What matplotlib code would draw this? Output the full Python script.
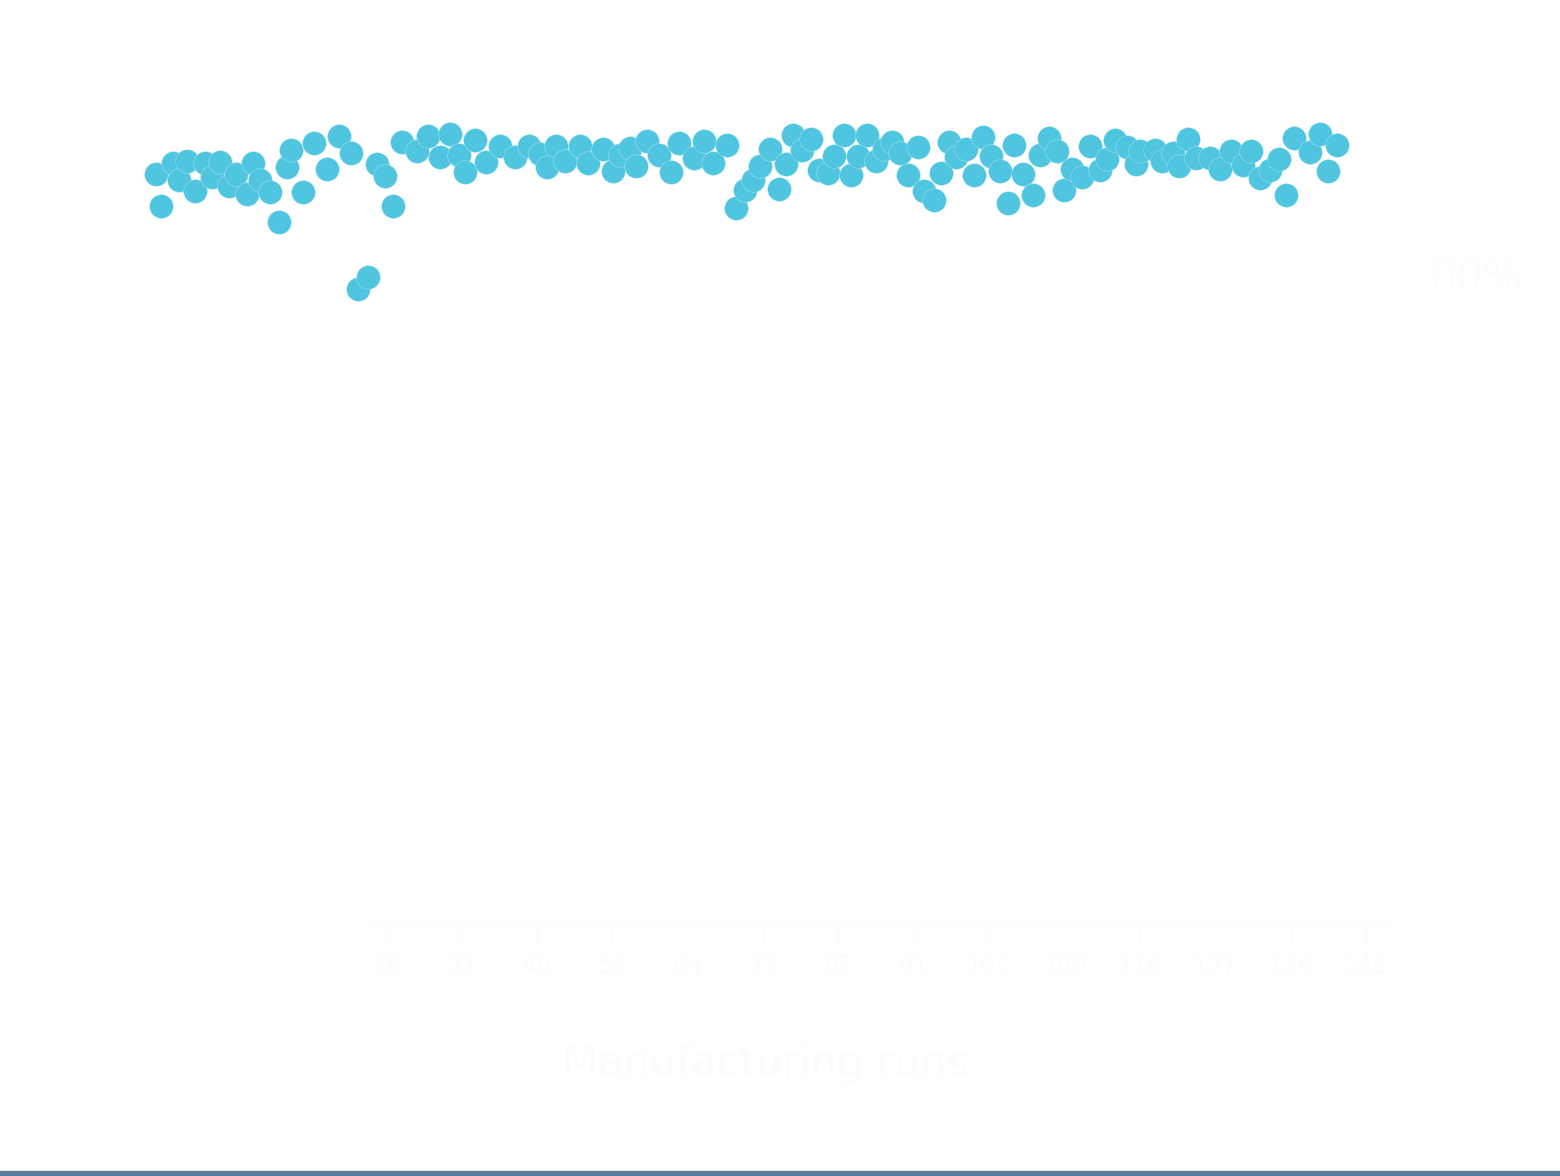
import matplotlib
matplotlib.use("Agg")
import matplotlib.pyplot as plt
from matplotlib.patches import Rectangle

runs = [0.5, 1.1, 2.6, 3.3, 4.2, 5.2, 6.4, 7.2, 8.2, 9.3, 10.1, 11.4, 12.1, 13.0, 14.1,
        15.2, 16.2, 16.7, 18.1, 19.4, 20.9, 22.4, 23.8, 24.7, 25.9, 26.9, 27.9, 28.8,
        29.9, 31.7, 33.0, 34.4, 35.6, 36.7, 37.4, 38.6, 39.9, 41.6, 43.4, 45.1, 46.4,
        47.2, 48.3, 49.4, 51.2, 52.1, 53.9, 55.1, 55.9, 57.1, 57.9, 59.1, 60.6, 62.0,
        63.0, 64.8, 66.0, 67.0, 68.7, 69.8, 70.9, 71.8, 72.7, 73.8, 74.9, 75.7, 76.6,
        77.7, 78.7, 79.7, 80.8, 81.5, 82.7, 83.5, 84.4, 85.4, 86.5, 87.5, 88.4, 89.4,
        90.3, 91.5, 92.2, 93.4, 94.3, 95.2, 96.0, 97.2, 98.2, 99.3, 100.2, 101.3, 102.3,
        103.0, 104.0, 105.2, 106.1, 107.1, 108.1, 108.9, 109.9, 111.1, 112.0, 113.2,
        114.1, 115.0, 116.5, 117.5, 118.0, 119.8, 120.7, 121.9, 122.7, 123.8, 124.7,
        126.4, 127.6, 128.9, 130.3, 131.3, 132.4, 133.5, 134.6, 135.4, 136.4, 138.3,
        139.5, 140.5, 141.5]

yields = [94.51, 90.47, 95.90, 93.75, 96.15, 92.37, 95.90, 94.13, 96.03, 92.99, 94.51,
          91.99, 95.90, 93.75, 92.24, 88.45, 95.39, 97.54, 92.24, 98.42, 95.14, 99.31,
          97.16, 80.00, 81.51, 95.77, 94.26, 90.47, 98.55, 97.41, 99.31, 96.66, 99.56,
          96.91, 94.76, 98.80, 96.03, 98.04, 96.66, 98.04, 97.03, 95.39, 98.04, 96.15,
          98.04, 95.90, 97.66, 94.89, 96.91, 97.79, 95.52, 98.68, 96.91, 94.76, 98.42,
          96.53, 98.68, 95.90, 98.17, 90.22, 92.49, 93.75, 95.52, 97.66, 92.62, 95.77,
          99.43, 97.54, 98.93, 95.02, 94.64, 96.78, 99.43, 94.38, 96.78, 99.43, 96.15,
          97.66, 98.55, 97.16, 94.38, 97.92, 92.37, 91.23, 94.64, 98.55, 96.66, 97.66,
          94.38, 99.18, 96.78, 94.89, 90.85, 98.17, 94.51, 91.86, 96.91, 99.05, 97.41,
          92.49, 95.14, 94.13, 98.04, 95.02, 96.40, 98.80, 97.92, 95.77, 97.41, 97.54,
          96.15, 97.16, 95.52, 98.93, 96.53, 96.53, 95.14, 97.41, 95.65, 97.41, 94.01,
          95.02, 96.40, 91.86, 99.05, 97.29, 99.56, 94.89, 98.17]

xticks = [28, 37, 46, 55, 64, 73, 82, 91, 100, 109, 118, 127, 136, 145]
threshold = 80
threshold_label = "80%"
xlabel = "Manufacturing runs"

faint = "#fcfcfc"
dot = "#50c5e0"

fig = plt.figure(figsize=(15.6, 11.76), dpi=100)
W, H = 1560, 1176
ax = fig.add_axes([151.5 / W, (H - 923) / H, 1256.4 / W, 792.5 / H])
ax.set_xlim(0, 150)
ax.set_ylim(0, 100)

ax.axhline(threshold, color=faint, lw=1.5, ls=(0, (2, 3)), zorder=1,
           xmin=0.0, xmax=(1385 - 151.5) / 1256.4)

ax.scatter(runs, yields, s=290, color=dot, edgecolors="#b5e6f2", linewidths=0.3,
           zorder=3, clip_on=False)

for s in ["top", "right", "left"]:
    ax.spines[s].set_visible(False)
ax.spines["bottom"].set_color(faint)
ax.spines["bottom"].set_linewidth(1.2)
ax.spines["bottom"].set_bounds(26, 148)
ax.set_yticks([])
ax.set_xticks(xticks)
ax.set_xticklabels([str(t) for t in xticks])
ax.tick_params(axis="x", length=14.4, width=1.0, color=faint, labelcolor=faint,
               labelsize=17, pad=8)

fig.text(765 / W, 1 - 1064 / H, xlabel, fontsize=30, color=faint,
         ha="center", va="center")

fig.text(1430 / W, 1 - 277 / H, threshold_label, fontsize=30, color=faint,
         fontweight="light", va="center", ha="left")

fig.patches.append(Rectangle((0, 0), 1, 5 / H, transform=fig.transFigure,
                             color="#587c9b", zorder=0))

fig.savefig("out.png", dpi=100, facecolor="white")
